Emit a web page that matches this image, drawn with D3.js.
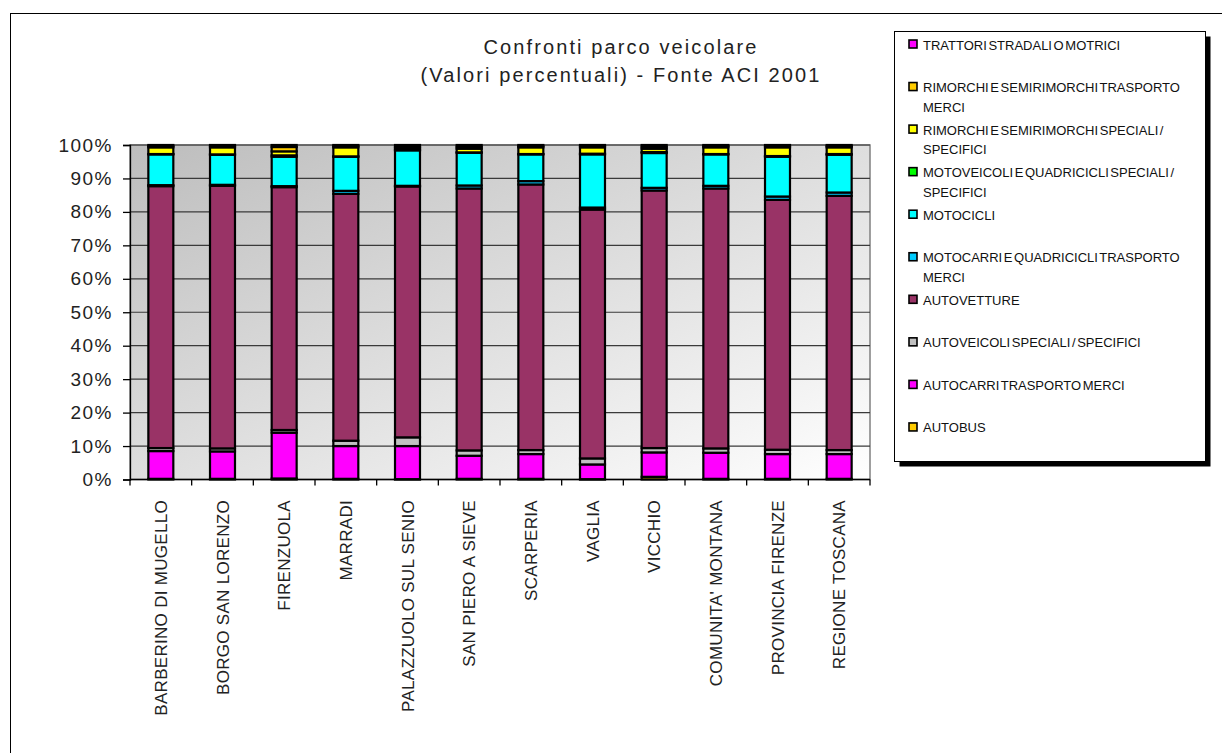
<!DOCTYPE html>
<html>
<head>
<meta charset="utf-8">
<script src="https://cdn.jsdelivr.net/npm/d3@7"></script>
<style>
  html, body { margin: 0; padding: 0; background: #fff; }
  svg { display: block; font-family: "Liberation Sans", Arial, sans-serif; }
</style>
</head>
<body>
<svg id="chart" width="1222" height="753"></svg>
<script>
// Categories (municipalities and reference areas)
const categories = [
  "BARBERINO DI MUGELLO", "BORGO SAN LORENZO", "FIRENZUOLA", "MARRADI",
  "PALAZZUOLO SUL SENIO", "SAN PIERO A SIEVE", "SCARPERIA", "VAGLIA",
  "VICCHIO", "COMUNITA' MONTANA", "PROVINCIA FIRENZE", "REGIONE TOSCANA"
];

// Percentage share of each vehicle type, one value per category
const autobus        = [0.2, 0.2, 0.3, 0.2, 0.1, 0.2, 0.2, 0.1, 0.8, 0.2, 0.2, 0.2];
const autocarri      = [8.3, 8.2, 13.7, 9.8, 9.9, 6.9, 7.4, 4.4, 7.3, 7.8, 7.4, 7.4];
const autoveicoliSp  = [0.9, 0.9, 0.8, 1.6, 2.6, 1.6, 1.2, 1.8, 1.3, 1.3, 1.3, 1.2];
const autovetture    = [78.3, 78.5, 72.6, 73.8, 75.0, 78.3, 79.4, 74.4, 77.0, 77.7, 74.7, 76.0];
const motocarri      = [0.3, 0.3, 0.3, 0.9, 0.2, 0.9, 1.0, 0.6, 0.8, 0.8, 1.0, 1.0];
const motocicli      = [9.2, 9.0, 8.8, 10.2, 10.6, 9.8, 8.0, 15.9, 10.4, 9.4, 11.9, 11.3];
const motoveicoliSp  = [0.1, 0.1, 0.4, 0.1, 0.2, 0.1, 0.1, 0.2, 0.3, 0.1, 0.2, 0.2];
const rimorchiSp     = [2.0, 2.1, 1.2, 2.7, 0.6, 1.1, 2.0, 1.9, 1.0, 2.0, 2.6, 2.0];
const rimorchiMerci  = [0.4, 0.4, 1.3, 0.4, 0.3, 0.6, 0.4, 0.4, 0.6, 0.4, 0.4, 0.4];
const trattori       = [0.3, 0.3, 0.6, 0.3, 0.5, 0.5, 0.3, 0.3, 0.5, 0.3, 0.3, 0.3];

// Series in stacking order (bottom to top)
const seriesKeys = ["autobus", "autocarri", "autoveicoliSp", "autovetture", "motocarri",
                    "motocicli", "motoveicoliSp", "rimorchiSp", "rimorchiMerci", "trattori"];
const seriesValues = { autobus, autocarri, autoveicoliSp, autovetture, motocarri,
                       motocicli, motoveicoliSp, rimorchiSp, rimorchiMerci, trattori };
const seriesLabels = {
  trattori: ["TRATTORI STRADALI O MOTRICI"],
  rimorchiMerci: ["RIMORCHI E SEMIRIMORCHI TRASPORTO", "MERCI"],
  rimorchiSp: ["RIMORCHI E SEMIRIMORCHI SPECIALI /", "SPECIFICI"],
  motoveicoliSp: ["MOTOVEICOLI E QUADRICICLI SPECIALI /", "SPECIFICI"],
  motocicli: ["MOTOCICLI"],
  motocarri: ["MOTOCARRI E QUADRICICLI TRASPORTO", "MERCI"],
  autovetture: ["AUTOVETTURE"],
  autoveicoliSp: ["AUTOVEICOLI SPECIALI / SPECIFICI"],
  autocarri: ["AUTOCARRI TRASPORTO MERCI"],
  autobus: ["AUTOBUS"]
};
const yTicks = [0, 10, 20, 30, 40, 50, 60, 70, 80, 90, 100];
const titleLines = ["Confronti parco veicolare", "(Valori percentuali) - Fonte ACI 2001"];

// Fill colours per series
const colors = {
  autobus: "#FFCC00", autocarri: "#FF00FF", autoveicoliSp: "#C0C0C0",
  autovetture: "#993366", motocarri: "#00CCFF", motocicli: "#00FFFF",
  motoveicoliSp: "#00FF00", rimorchiSp: "#FFFF00", rimorchiMerci: "#FFCC00",
  trattori: "#FF00FF"
};

const svg = d3.select("#chart");

// Outer chart frame
svg.append("rect").attr("x", 10.5).attr("y", 13.5).attr("width", 1300).attr("height", 800)
  .attr("fill", "#fff").attr("stroke", "#000").attr("stroke-width", 1);

const plot = { left: 130, right: 870, top: 145, bottom: 479.5 };

const x = d3.scaleBand().domain(categories).range([plot.left, plot.right]).padding(0);
const y = d3.scaleLinear().domain([0, 100]).range([plot.bottom, plot.top]);

// Plot area background with diagonal gradient
const defs = svg.append("defs");
const grad = defs.append("linearGradient").attr("id", "plotBg")
  .attr("x1", "0%").attr("y1", "0%").attr("x2", "100%").attr("y2", "100%");
grad.append("stop").attr("offset", "0%").attr("stop-color", "#bdbdbd");
grad.append("stop").attr("offset", "100%").attr("stop-color", "#ffffff");

svg.append("rect")
  .attr("x", plot.left).attr("y", plot.top)
  .attr("width", plot.right - plot.left).attr("height", plot.bottom - plot.top)
  .attr("fill", "url(#plotBg)").attr("stroke", "#808080").attr("stroke-width", 1.5);

// Horizontal gridlines
svg.append("g").selectAll("line").data(yTicks.filter(d => d > 0)).join("line")
  .attr("x1", plot.left).attr("x2", plot.right)
  .attr("y1", d => y(d)).attr("y2", d => y(d))
  .attr("stroke", "#3a3a3a").attr("stroke-width", 1.2);

// Stacked bars
const rows = categories.map((c, i) => {
  const r = { category: c };
  seriesKeys.forEach(k => { r[k] = seriesValues[k][i]; });
  return r;
});
const stacked = d3.stack().keys(seriesKeys)(rows);
const barW = x.bandwidth() * 0.405;

svg.append("g").selectAll("g").data(stacked).join("g")
  .attr("fill", d => colors[d.key])
  .selectAll("rect").data(d => d).join("rect")
  .attr("x", d => x(d.data.category) + (x.bandwidth() - barW) / 2)
  .attr("y", d => y(d[1]))
  .attr("width", barW)
  .attr("height", d => y(d[0]) - y(d[1]))
  .attr("stroke", "#000").attr("stroke-width", 2.2);

// Y axis
const yAxis = svg.append("g").attr("transform", `translate(${plot.left},0)`)
  .call(d3.axisLeft(y).tickValues(yTicks).tickFormat(d => d + "%").tickSize(7).tickPadding(10));
yAxis.select(".domain").attr("stroke", "#000").attr("stroke-width", 1.3);
yAxis.selectAll(".tick line").attr("stroke", "#000").attr("stroke-width", 1.3);
yAxis.selectAll("text").attr("font-size", 19).attr("fill", "#222")
  .attr("font-family", "'Liberation Sans', Arial, sans-serif").attr("letter-spacing", 1.5);

// X axis: ticks at category boundaries
const xg = svg.append("g");
xg.append("line").attr("x1", plot.left).attr("x2", plot.right)
  .attr("y1", plot.bottom).attr("y2", plot.bottom).attr("stroke", "#000").attr("stroke-width", 1.3);
const boundaries = categories.map(c => x(c)).concat([plot.right]);
xg.selectAll("line.tk").data(boundaries).join("line").attr("class", "tk")
  .attr("x1", d => d).attr("x2", d => d)
  .attr("y1", plot.bottom).attr("y2", plot.bottom + 6)
  .attr("stroke", "#000").attr("stroke-width", 1.3);
xg.selectAll("text").data(categories).join("text")
  .attr("transform", d => `translate(${x(d) + x.bandwidth() / 2 + 6},500) rotate(-90)`)
  .attr("text-anchor", "end")
  .attr("font-size", 17).attr("fill", "#222").attr("letter-spacing", 0.3)
  .text(d => d);

// Title
svg.append("g").selectAll("text").data(titleLines).join("text")
  .attr("x", 621).attr("y", (d, i) => 54 + i * 28)
  .attr("text-anchor", "middle").attr("font-size", 20).attr("fill", "#222")
  .attr("letter-spacing", 2.1)
  .text(d => d);

// Legend box with shadow
const lg = { x: 894.5, y: 31.5, w: 311, h: 430 };
svg.append("rect").attr("x", lg.x + 5).attr("y", lg.y + 5).attr("width", lg.w).attr("height", lg.h)
  .attr("fill", "#000");
svg.append("rect").attr("x", lg.x).attr("y", lg.y).attr("width", lg.w).attr("height", lg.h)
  .attr("fill", "#fff").attr("stroke", "#000").attr("stroke-width", 1);

const legendOrder = seriesKeys.slice().reverse();
const item = svg.append("g").selectAll("g").data(legendOrder).join("g")
  .attr("transform", (d, i) => `translate(909,${45 + i * 42.55})`);
item.append("rect").attr("x", 0).attr("y", -5).attr("width", 8).attr("height", 8)
  .attr("fill", d => colors[d]).attr("stroke", "#000").attr("stroke-width", 1.6);
item.each(function (k) {
  const t = d3.select(this).append("text").attr("x", 14).attr("y", 4.5)
    .attr("font-size", 13).attr("fill", "#111").attr("word-spacing", -2);
  seriesLabels[k].forEach((line, j) => {
    t.append("tspan").attr("x", 14).attr("dy", j === 0 ? 0 : 19.5).text(line);
  });
});
</script>
</body>
</html>
